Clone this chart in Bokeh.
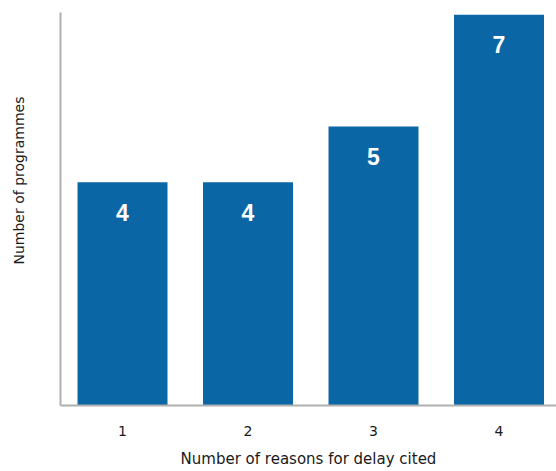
from bokeh.plotting import figure
from bokeh.models import ColumnDataSource, Range1d, FixedTicker, Title
from bokeh.core.properties import value
from bokeh.embed import file_html
from bokeh.resources import INLINE

reasons = [1, 2, 3, 4]
tick_labels = ["1", "2", "3", "4"]
programmes = [4, 4, 5, 7]
x_title = "Number of reasons for delay cited"
y_title = "Number of programmes"

src = ColumnDataSource(dict(x=reasons, y=programmes, lbl=[str(v) for v in programmes]))

p = figure(width=556, height=471, output_backend="svg", toolbar_location=None,
           x_range=Range1d(0.506, 4.458), y_range=Range1d(0, 7.04),
           min_border_left=60, min_border_right=0, min_border_top=12, min_border_bottom=66)
p.outline_line_color = None
p.xgrid.visible = False
p.ygrid.visible = False
p.background_fill_color = "white"

p.vbar(x="x", top="y", width=0.717, bottom=0, source=src, fill_color="#0b66a5", line_color=None)
p.text(x="x", y="y", text="lbl", source=src, y_offset=30, text_align="center", text_baseline="middle",
       text_color="white", text_font=value("Liberation Sans"), text_font_style="bold", text_font_size="23px")

xa = p.xaxis[0]
xa.ticker = FixedTicker(ticks=reasons)
xa.major_label_overrides = {r: t for r, t in zip(reasons, tick_labels)}
xa.major_tick_line_color = None
xa.minor_tick_line_color = None
xa.major_label_standoff = 14
xa.major_label_text_font = "DejaVu Sans"
xa.major_label_text_font_size = "14px"
xa.major_label_text_color = "#1a1a1a"
xa.axis_line_color = "#b0b0b0"
xa.axis_line_width = 2
xa.axis_label = x_title
xa.axis_label_text_font = "DejaVu Sans"
xa.axis_label_text_font_style = "normal"
xa.axis_label_text_font_size = "15px"
xa.axis_label_text_color = "#1a1a1a"
xa.axis_label_standoff = 11

ya = p.yaxis[0]
ya.ticker = FixedTicker(ticks=[])
ya.major_tick_line_color = None
ya.minor_tick_line_color = None
ya.major_label_text_font_size = "0px"
ya.axis_line_color = "#b0b0b0"
ya.axis_line_width = 2
ya.axis_label = " "
ya.axis_label_text_font_size = "1px"
ya.axis_label_standoff = 30

p.add_layout(Title(text=y_title, align="left", offset=141, text_font="DejaVu Sans",
                   text_font_size="14px", text_font_style="normal", text_color="#1a1a1a",
                   standoff=0), "left")

open("out.html", "w").write(file_html(p, INLINE))
